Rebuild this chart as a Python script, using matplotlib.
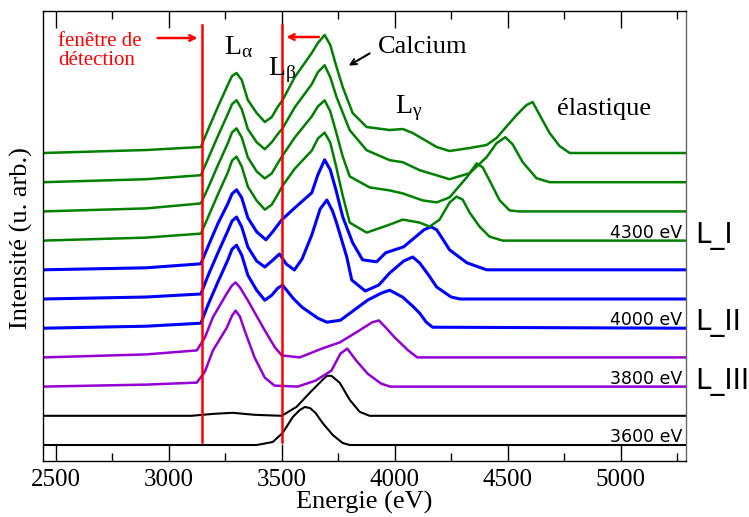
import numpy as np
import matplotlib
matplotlib.use('Agg')
import matplotlib.pyplot as plt
from matplotlib.ticker import MultipleLocator

plt.rcParams['font.family'] = 'Liberation Serif'
plt.rcParams['mathtext.fontset'] = 'stix'

# spectres (energie eV, intensite en u. arb. au-dessus de la ligne de base)
e_3600 = [2443, 3300, 3389, 3460, 3504, 3549, 3580, 3602, 3625, 3650, 3681, 3726, 3770, 3801, 5290]
i_3600 = [0, 0, 0, 3, 12, 28, 35, 38, 37, 32, 22, 10, 2, 0, 0]

e_3700 = [2443, 3100, 3200, 3283, 3380, 3500, 3566, 3624, 3681, 3700, 3720, 3757, 3801, 3845,
          3889, 5290]
i_3700 = [0, 0, 2, 3, 1, 0, 9, 23, 36, 40, 40, 33, 16, 4, 0, 0]

e_3800 = [2443, 2900, 3124, 3160, 3195, 3257, 3280, 3296, 3315, 3336, 3380, 3425, 3468, 3570,
          3650, 3720, 3760, 3790, 3830, 3880, 3940, 3980, 5290]
i_3800 = [0, 2, 4, 15, 36, 59, 71, 76, 70, 56, 29, 9, 1, 0, 6, 16, 33, 38, 26, 13, 3, 0, 0]

e_3900 = [2443, 2900, 3124, 3160, 3195, 3257, 3280, 3296, 3315, 3350, 3425, 3470, 3500, 3580,
          3680, 3757, 3830, 3900, 3930, 3960, 4000, 4060, 4100, 5290]
i_3900 = [0, 3, 7, 20, 40, 64, 72, 75, 70, 57, 27, 10, 2, 0, 9, 15, 25, 35, 37, 30, 20, 7, 0, 0]

e_4000 = [2443, 2900, 3142, 3173, 3217, 3261, 3280, 3300, 3323, 3350, 3389, 3425, 3456, 3482,
          3504, 3550, 3590, 3660, 3700, 3760, 3820, 3880, 3940, 3978, 4036, 4080, 4111, 4140,
          4168, 5290]
i_4000 = [0, 2, 5, 23, 46, 68, 79, 83, 73, 53, 38, 28, 33, 40, 43, 30, 21, 10, 6, 8, 18, 28,
          35, 38, 31, 22, 15, 6, 1, 0]

e_4100 = [2443, 2900, 3142, 3173, 3217, 3261, 3280, 3300, 3323, 3350, 3389, 3425, 3456, 3490,
          3520, 3556, 3590, 3633, 3670, 3700, 3725, 3743, 3788, 3810, 3870, 3930, 3978, 4040,
          4080, 4111, 4150, 4186, 4250, 4290, 5290]
i_4100 = [0, 2, 5, 23, 46, 68, 78, 82, 72, 52, 38, 32, 38, 45, 35, 29, 40, 64, 90, 99, 88, 76,
          42, 19, 8, 14, 26, 38, 42, 36, 24, 12, 2, 0, 0]

e_4200 = [2443, 2900, 3142, 3173, 3217, 3261, 3280, 3300, 3323, 3350, 3389, 3430, 3460, 3500,
          3558, 3633, 3660, 3690, 3715, 3740, 3770, 3814, 3858, 3920, 3960, 4040, 4130, 4160,
          4186, 4215, 4243, 4320, 4407, 5290]
i_4200 = [0, 2, 6, 23, 46, 66, 76, 80, 72, 52, 38, 30, 38, 50, 62, 77, 95, 110, 100, 80, 53,
          27, 10, 8, 17, 23, 40, 43, 40, 30, 20, 7, 0, 0]

e_4300 = [2443, 2900, 3142, 3173, 3217, 3261, 3280, 3300, 3323, 3350, 3389, 3425, 3456, 3482,
          3504, 3558, 3633, 3660, 3690, 3715, 3740, 3770, 3801, 3876, 3978, 4036, 4111, 4155,
          4199, 4243, 4274, 4301, 4332, 4376, 4420, 4478, 5290]
i_4300 = [0, 3, 7, 23, 46, 68, 80, 84, 74, 54, 40, 31, 36, 46, 55, 72, 90, 102, 108, 98, 75,
          45, 18, 8, 16, 21, 18, 14, 21, 38, 44, 41, 28, 14, 4, 0, 0]

e_4400 = [2443, 2900, 3142, 3173, 3217, 3261, 3280, 3300, 3323, 3350, 3389, 3425, 3456, 3482,
          3504, 3558, 3633, 3660, 3690, 3715, 3740, 3770, 3801, 3889, 3978, 4036, 4124, 4186,
          4243, 4319, 4363, 4390, 4420, 4465, 4509, 4550, 5290]
i_4400 = [0, 3, 8, 23, 46, 68, 79, 83, 74, 54, 40, 33, 38, 48, 56, 74, 95, 105, 111, 100, 80,
          55, 35, 24, 21, 18, 11, 9, 14, 34, 48, 44, 31, 11, 1, 0, 0]

e_4500 = [2443, 2900, 3142, 3173, 3217, 3261, 3280, 3300, 3323, 3350, 3389, 3425, 3456, 3482,
          3504, 3558, 3633, 3660, 3690, 3715, 3743, 3801, 3876, 3978, 4036, 4111, 4243, 4332,
          4407, 4451, 4490, 4522, 4567, 4628, 4686, 5290]
i_4500 = [0, 3, 7, 23, 46, 68, 78, 82, 73, 53, 40, 33, 40, 48, 54, 75, 98, 110, 117, 105, 85,
          52, 32, 22, 20, 12, 3, 9, 25, 39, 45, 38, 20, 4, 0, 0]

e_4600 = [2443, 2900, 3142, 3173, 3217, 3261, 3280, 3300, 3323, 3350, 3389, 3425, 3456, 3482,
          3504, 3558, 3633, 3660, 3690, 3715, 3740, 3770, 3814, 3876, 3978, 4036, 4080, 4186,
          4243, 4332, 4407, 4451, 4478, 4540, 4584, 4611, 4642, 4686, 4730, 4775, 5290]
i_4600 = [0, 3, 6, 23, 46, 68, 77, 80, 73, 53, 40, 31, 36, 46, 53, 76, 100, 110, 118, 108, 88,
          66, 40, 26, 23, 24, 20, 6, 2, 5, 8, 15, 22, 38, 48, 51, 38, 20, 7, 0, 0]

spectres = [(e_3600, i_3600), (e_3700, i_3700), (e_3800, i_3800), (e_3900, i_3900),
            (e_4000, i_4000), (e_4100, i_4100), (e_4200, i_4200), (e_4300, i_4300),
            (e_4400, i_4400), (e_4500, i_4500), (e_4600, i_4600)]
couleurs = ['k', 'k', '#9400d3', '#9400d3', '#0000ff', '#0000ff', '#0000ff',
            '#008000', '#008000', '#008000', '#008000']
epaisseurs = [1.5, 1.5, 1.8, 1.8, 2.2, 2.2, 2.2, 1.8, 1.8, 1.8, 1.8]

energies_lab = ['3600 eV', '3800 eV', '4000 eV', '4300 eV']
idx_lab = [0, 2, 4, 7]
couches = ['L_III', 'L_II', 'L_I']
idx_couches = [2, 4, 7]

fenetre = [3145, 3500]
decal = 29.2

fig = plt.figure(figsize=(7.49, 5.17), dpi=100)
ax = fig.add_axes([0.0574, 0.1083, 0.8585, 0.8704])

for k, (e, i) in enumerate(spectres):
    ax.plot(e, np.array(i) + k*decal, color=couleurs[k], lw=epaisseurs[k])

for x in fenetre:
    ax.plot([x, x], [3.5, 420], color='#ff0000', lw=1.8)

ax.set_xlim(2443, 5290)
ax.set_ylim(-16, 434)
ax.xaxis.set_major_locator(MultipleLocator(500))
ax.xaxis.set_minor_locator(MultipleLocator(250))
ax.set_yticks([])
ax.tick_params(axis='x', which='both', direction='in', top=True, bottom=True,
               labelsize=18, pad=6)
ax.tick_params(axis='x', which='major', length=12, width=1)
ax.tick_params(axis='x', which='minor', length=6, width=1)
for s in ax.spines.values():
    s.set_linewidth(1.0)
ax.spines['right'].set_color('#666666')

ax.set_xlabel('Energie (eV)', fontsize=19, labelpad=0)
fig.text(0.029, 0.54, 'Intensité (u. arb.)', rotation=90, fontsize=19,
         ha='center', va='center')

# annotations
ax.text(2509, 394, 'fenêtre de\ndétection', color='#ff0000', fontsize=15,
        ha='left', va='center', linespacing=1.0)
ax.annotate('', xy=(3140, 407), xytext=(2938, 407),
            arrowprops=dict(arrowstyle='->', color='#ff0000', lw=1.8))
ax.annotate('', xy=(3508, 408), xytext=(3677, 408),
            arrowprops=dict(arrowstyle='->', color='#ff0000', lw=1.8))
ax.text(3243, 391, r'L$_{\mathregular{α}}$', fontsize=20, ha='left', va='baseline')
ax.text(3438, 370, r'L$_{\mathregular{β}}$', fontsize=20, ha='left', va='baseline')
ax.text(3925, 392, 'Calcium', fontsize=19, ha='left', va='baseline')
ax.annotate('', xy=(3786, 378), xytext=(3900, 393),
            arrowprops=dict(arrowstyle='->', color='k', lw=1.5))
ax.text(4000, 332, r'L$_{\mathregular{γ}}$', fontsize=20, ha='left', va='baseline')
ax.text(4721, 330, 'élastique', fontsize=19, ha='left', va='baseline')

for lab, k in zip(energies_lab, idx_lab):
    ax.text(5272, k*decal + 3, lab, fontsize=12.5, family='DejaVu Sans',
            ha='right', va='baseline')
for lab, k in zip(couches, idx_couches):
    ax.text(5330, k*decal - 2, lab, fontsize=20, family='DejaVu Sans',
            ha='left', va='baseline', clip_on=False)

fig.savefig('out.png', dpi=100)
